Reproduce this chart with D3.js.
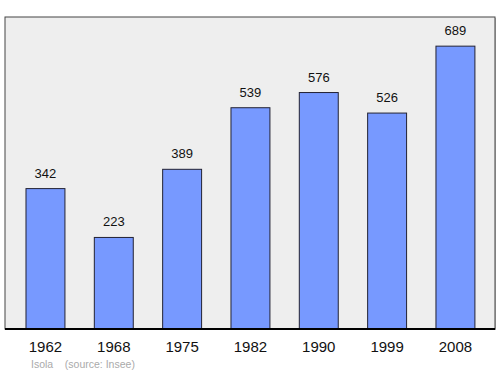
<!DOCTYPE html>
<html>
<head>
<meta charset="utf-8">
<script src="https://cdn.jsdelivr.net/npm/d3@7"></script>
<style>
  body { margin: 0; background: #fff; }
  text { font-family: "Liberation Sans", Arial, sans-serif; }
</style>
</head>
<body>
<svg id="chart" width="500" height="374"></svg>
<script>
const years = ['1962', '1968', '1975', '1982', '1990', '1999', '2008'];
const population = [342, 223, 389, 539, 576, 526, 689];
const commune = 'Isola';
const source = '(source: Insee)';

const frame = { left: 5, top: 17, right: 495, bottom: 329 };

const svg = d3.select('#chart');

const x = d3.scaleBand()
    .domain(years)
    .range([11.3, 489.6])
    .paddingInner(0.43)
    .paddingOuter(0.215);

const y = d3.scaleLinear()
    .domain([0, 760])
    .range([frame.bottom, frame.top]);

// shadow + frame
svg.append('rect')
    .attr('x', frame.left + 1)
    .attr('y', frame.top + 1)
    .attr('width', frame.right - frame.left)
    .attr('height', frame.bottom - frame.top)
    .attr('fill', '#bbb');

svg.append('rect')
    .attr('x', frame.left)
    .attr('y', frame.top)
    .attr('width', frame.right - frame.left)
    .attr('height', frame.bottom - frame.top)
    .attr('fill', '#eeeeee')
    .attr('stroke', '#444')
    .attr('stroke-width', 1);

const data = years.map((yr, i) => ({ year: yr, value: population[i] }));

svg.append('g').attr('class', 'bars')
    .selectAll('rect')
    .data(data)
    .join('rect')
    .attr('x', d => x(d.year))
    .attr('y', d => y(d.value))
    .attr('width', x.bandwidth())
    .attr('height', d => y(0) - y(d.value))
    .attr('fill', '#7799ff')
    .attr('stroke', '#223')
    .attr('stroke-width', 1);

svg.append('g').attr('class', 'values')
    .selectAll('text')
    .data(data)
    .join('text')
    .attr('x', d => x(d.year) + x.bandwidth() / 2)
    .attr('y', d => y(d.value) - 11)
    .attr('text-anchor', 'middle')
    .attr('font-size', 13)
    .attr('fill', '#111')
    .text(d => d.value);

// axis line
svg.append('line')
    .attr('x1', frame.left)
    .attr('x2', frame.right)
    .attr('y1', frame.bottom)
    .attr('y2', frame.bottom)
    .attr('stroke', '#000')
    .attr('stroke-width', 2);

const xAxis = d3.axisBottom(x).tickSize(0).tickPadding(0);
const gx = svg.append('g')
    .attr('transform', `translate(0,${frame.bottom})`)
    .call(xAxis);
gx.select('.domain').remove();
gx.selectAll('text')
    .attr('y', 23)
    .attr('dy', 0)
    .attr('font-size', 15)
    .attr('font-family', '"Liberation Sans", Arial, sans-serif')
    .attr('fill', '#111');

svg.append('text')
    .attr('x', 31)
    .attr('y', 368)
    .attr('font-size', 10.5)
    .attr('fill', '#aaa')
    .attr('xml:space', 'preserve')
    .text(`${commune}    ${source}`);
</script>
</body>
</html>
